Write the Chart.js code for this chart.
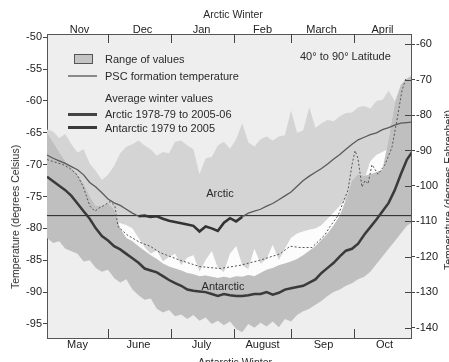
<!DOCTYPE html>
<html><head><meta charset="utf-8">
<script src="https://cdn.jsdelivr.net/npm/chart.js@4.4.1/dist/chart.umd.min.js"></script>
<style>
html,body{margin:0;padding:0;background:#fff;overflow:hidden;}
#wrap{position:relative;width:449px;height:362px;overflow:hidden;font-family:"Liberation Sans",Arial,Helvetica,sans-serif;color:#2a2a2a;}
canvas{position:absolute;left:0;top:0;}
.t{position:absolute;white-space:nowrap;font-size:11px;line-height:12px;}
.c{transform:translate(-50%,-50%);}
.r{transform:translate(-50%,-50%) rotate(-90deg);}
.sw{position:absolute;}
</style></head><body>
<div id="wrap">
<canvas id="c" width="449" height="362"></canvas>
<div class="t c" style="left:233px;top:14px;font-size:10.5px;">Arctic Winter</div>
<div class="t c" style="left:235px;top:362px;font-size:10.5px;">Antarctic Winter</div>
<div class="t r" style="left:15px;top:217px;font-size:10.5px;">Temperature (degrees Celsius)</div>
<div class="t r" style="left:448px;top:190px;font-size:10.5px;">Temperature (degrees Fahrenheit)</div>
<div class="sw" style="left:74px;top:54px;width:17px;height:8px;background:#c4c4c4;border:1px solid #555;"></div>
<div class="sw" style="left:68px;top:75px;width:29px;height:1.5px;background:#8a8a8a;"></div>
<div class="sw" style="left:68px;top:112.5px;width:29px;height:3px;background:#444;"></div>
<div class="sw" style="left:68px;top:126px;width:29px;height:3px;background:#3a3a3a;"></div>
<div class="t" style="left:105px;top:53px;">Range of values</div>
<div class="t" style="left:105px;top:70px;">PSC formation temperature</div>
<div class="t" style="left:105px;top:92px;">Average winter values</div>
<div class="t" style="left:105px;top:108px;">Arctic 1978-79 to 2005-06</div>
<div class="t" style="left:105px;top:122px;">Antarctic 1979 to 2005</div>
<div class="t" style="left:300px;top:50px;">40° to 90° Latitude</div>
<div class="t c" style="left:220px;top:193px;">Arctic</div>
<div class="t c" style="left:223px;top:286px;">Antarctic</div>
</div>
<script>
// x positions in days from Nov 1 (Arctic) / May 1 (Antarctic)
const days = [0,3,6,9,12,15,18,21,24,27,30,33,36,39,42,45,48,51,54,57,60,63,66,69,72,75,78,81,84,87,90,93,96,99,102,105,108,111,114,117,120,123,126,129,132,135,138,141,144,147,150,153,156,159,162,165,168,171,174,177,180];
const arcticAvg = [-68.5,-69.0,-69.4,-69.8,-70.3,-70.8,-71.6,-72.8,-73.5,-74.4,-75.4,-76.0,-76.4,-77.0,-77.6,-78.1,-78.0,-78.2,-78.1,-78.5,-78.8,-79.0,-79.2,-79.4,-79.6,-80.5,-79.7,-80.0,-80.4,-79.1,-78.4,-78.9,-78.2,-77.6,-77.3,-77.0,-76.5,-76.1,-75.5,-74.9,-74.3,-73.4,-72.5,-71.8,-71.2,-70.6,-69.9,-69.1,-68.4,-67.6,-66.8,-66.1,-65.7,-65.3,-65.0,-64.5,-64.2,-63.8,-63.5,-63.4,-63.3];
const antarcticAvg = [-71.9,-72.6,-73.3,-74.0,-74.9,-76.1,-77.3,-78.5,-80.0,-81.2,-81.9,-82.8,-83.3,-84.0,-84.7,-85.4,-86.3,-86.6,-86.9,-87.5,-88.1,-88.6,-89.0,-89.6,-89.8,-89.9,-90.0,-90.3,-90.6,-90.3,-90.5,-90.6,-90.6,-90.5,-90.3,-90.3,-90.0,-90.4,-90.1,-89.6,-89.4,-89.2,-89.0,-88.5,-88.0,-87.0,-86.2,-85.4,-84.4,-83.5,-83.2,-82.4,-81.0,-79.8,-78.6,-77.3,-76.0,-74.0,-71.5,-69.2,-67.8];
const arcticMax = [-64.5,-64.8,-65.8,-65.2,-66.8,-68.1,-67.6,-69.8,-71.0,-72.4,-71.6,-70.2,-68.2,-67.2,-66.8,-66.2,-67.0,-67.6,-68.6,-68.0,-68.2,-66.4,-66.2,-67.0,-67.6,-71.5,-69.0,-68.8,-67.0,-66.4,-67.5,-66.0,-63.5,-66.5,-67.2,-66.0,-65.6,-66.2,-65.6,-65.4,-61.5,-65.0,-64.6,-61.0,-64.2,-63.5,-63.0,-63.2,-62.4,-61.9,-61.8,-61.0,-60.8,-61.2,-60.0,-59.8,-58.4,-60.0,-57.5,-56.5,-55.8];
const arcticMin = [-77.0,-77.5,-78.0,-78.3,-78.6,-79.0,-79.2,-79.5,-79.6,-79.5,-79.2,-79.0,-79.2,-79.5,-80.0,-81.5,-83.0,-84.0,-83.5,-85.2,-84.5,-84.0,-85.8,-84.6,-84.2,-86.8,-85.0,-83.6,-86.2,-86.9,-84.0,-82.8,-85.8,-86.4,-83.2,-85.6,-84.8,-82.6,-85.0,-83.2,-81.5,-80.8,-80.5,-80.2,-80.0,-79.5,-78.5,-77.5,-76.5,-75.5,-74.5,-73.5,-72.5,-69.5,-68.5,-68.0,-67.5,-67.0,-66.5,-66.0,-65.5];
const antarcticMax = [-65.0,-66.5,-68.0,-69.5,-70.5,-71.5,-73.0,-75.0,-76.5,-76.5,-76.0,-77.0,-80.0,-81.5,-82.0,-82.8,-83.5,-84.2,-84.8,-85.5,-86.0,-86.3,-86.6,-87.0,-87.2,-87.5,-87.4,-87.6,-87.8,-87.6,-87.8,-87.5,-87.6,-87.3,-87.5,-87.0,-86.5,-86.2,-85.8,-85.5,-85.2,-84.8,-84.2,-83.5,-82.8,-81.8,-80.8,-79.5,-78.0,-75.5,-72.5,-71.5,-71.8,-71.5,-71.2,-70.8,-66.0,-60.5,-57.5,-56.5,-56.0];
const antarcticMin = [-81.5,-82.3,-82.0,-83.2,-83.6,-84.0,-85.2,-85.0,-86.2,-86.8,-86.5,-87.8,-88.5,-88.0,-89.6,-90.5,-91.2,-91.0,-92.6,-93.2,-92.8,-93.8,-93.5,-94.2,-93.6,-94.5,-94.0,-95.0,-94.5,-95.2,-94.6,-95.8,-96.3,-95.0,-95.6,-94.8,-95.4,-94.6,-95.5,-94.2,-94.6,-93.6,-93.0,-92.6,-92.0,-91.4,-90.6,-90.0,-89.6,-89.0,-88.6,-88.0,-87.6,-86.8,-85.6,-84.4,-83.2,-82.0,-80.8,-79.6,-79.0];
// single winter (dotted)
const yearDays = [0,3.9,7.9,11.3,14.8,17.7,21.1,23.6,25.6,27.5,31.0,33.4,34.9,39.3,45.7,50.7,55.6,65.4,75.2,85.1,94.9,104.7,114.6,119.5,124.4,130.3,136.7,139.2,143.1,148.0,150.0,151.5,152.9,154.9,156.4,157.9,159.8,162.8,166.2,169.7,172.1,174.6,176.5];
const yearVals = [-69.2,-69.6,-70.0,-70.6,-71.6,-73.4,-76.5,-77.3,-76.8,-76.5,-75.8,-76.5,-79.7,-81.0,-82.2,-82.8,-83.8,-85.0,-86.0,-86.3,-85.8,-85.0,-84.0,-82.8,-83.0,-83.0,-81.0,-79.7,-78.0,-74.0,-70.0,-67.8,-69.0,-73.5,-72.5,-73.0,-70.0,-71.5,-70.0,-67.2,-63.0,-58.3,-56.5];
const pscDays = [0,180];
const pscVals = [-78,-78];
// axes
const bottomMonths = ['May','June','July','August','Sep','Oct'];
const bottomLabelDays = [15,45,76,106,136,166];
const topMonths = ['Nov','Dec','Jan','Feb','March','April'];
const topLabelDays = [16,47,76,106,135,165];
const monthBoundaries = [30,61,92,120,151];
const celsiusTicks = [-50,-55,-60,-65,-70,-75,-80,-85,-90,-95];
const fahrenheitTicks = [-60,-70,-80,-90,-100,-110,-120,-130,-140];
const cMin = -97.2, cMax = -49.5;
const toF = c => c*9/5+32;

const pts = (xs, ys) => xs.map((x,i)=>({x:x,y:ys[i]}));
const FONT = {family:'"Liberation Sans", Arial, Helvetica, sans-serif', size:11};
const lab = '#222';

const bgPlugin = {id:'bg', beforeDraw(ch){const a=ch.chartArea,c=ch.ctx;c.save();c.fillStyle='#eeeeee';c.fillRect(a.left,a.top,a.right-a.left,a.bottom-a.top);c.restore();}};
const tickPlugin = {id:'tk', afterDraw(ch){
  const {ctx,chartArea:a,scales} = ch; ctx.save(); ctx.strokeStyle='#444'; ctx.lineWidth=1;
  monthBoundaries.forEach(d=>{const x=Math.round(scales.x.getPixelForValue(d))+0.5;
    ctx.beginPath();ctx.moveTo(x,a.bottom);ctx.lineTo(x,a.bottom-9);ctx.moveTo(x,a.top);ctx.lineTo(x,a.top+9);ctx.stroke();});
  fahrenheitTicks.forEach(f=>{const y=Math.round(scales.y2.getPixelForValue(f))+0.5;
    ctx.beginPath();ctx.moveTo(a.right-6,y);ctx.lineTo(a.right,y);ctx.stroke();});
  ctx.restore();}};

const thin = '#5a5a5a';
new Chart(document.getElementById('c'), {
  type:'line',
  data:{datasets:[
    {data:pts(days,arcticAvg), borderColor:thin, borderWidth:1.3, pointRadius:0, fill:false,
      segment:{borderWidth:c=>(c.p0.parsed.y<-77.9&&c.p1.parsed.y<-77.9)?2.6:1.3,
               borderColor:c=>(c.p0.parsed.y<-77.9&&c.p1.parsed.y<-77.9)?'#333':thin}},
    {data:pts(days,antarcticAvg), borderColor:'#3a3a3a', borderWidth:2.5, pointRadius:0, fill:false},
    {data:pts(yearDays,yearVals), borderColor:'#555', borderWidth:1, borderDash:[2,2], pointRadius:0, fill:false},
    {data:pts(pscDays,pscVals), borderColor:'#222', borderWidth:1, pointRadius:0, fill:false},
    {data:pts(days,antarcticMin), borderWidth:0, pointRadius:0, fill:false},
    {data:pts(days,antarcticMax), borderWidth:0, pointRadius:0, fill:'-1', backgroundColor:'#bfbfbf'},
    {data:pts(days,arcticMin), borderWidth:0, pointRadius:0, fill:{target:5, above:'#fcfcfc', below:'rgba(0,0,0,0)'}},
    {data:pts(days,arcticMax), borderWidth:0, pointRadius:0, fill:'-1', backgroundColor:'#d4d4d4'}
  ]},
  options:{
    responsive:false, animation:false, events:[],
    layout:{padding:0},
    plugins:{legend:{display:false}, tooltip:{enabled:false}, filler:{drawTime:'beforeDatasetsDraw'}},
    elements:{line:{tension:0}},
    scales:{
      x:{type:'linear', position:'bottom', min:0, max:179,
        afterBuildTicks:s=>{s.ticks=bottomLabelDays.map(v=>({value:v}));},
        afterFit:s=>{s.height=24;},
        ticks:{callback:(v,i)=>bottomMonths[i], font:FONT, color:lab, padding:0, maxRotation:0, autoSkip:false},
        grid:{display:false, drawTicks:false}, border:{display:true, color:'#555', width:1}},
      x2:{type:'linear', position:'top', min:0, max:179,
        afterBuildTicks:s=>{s.ticks=topLabelDays.map(v=>({value:v}));},
        afterFit:s=>{s.height=34;},
        ticks:{callback:(v,i)=>topMonths[i], font:FONT, color:lab, padding:-3, maxRotation:0, autoSkip:false},
        grid:{display:false, drawTicks:false}, border:{display:true, color:'#555', width:1}},
      y:{type:'linear', position:'left', min:cMin, max:cMax,
        afterBuildTicks:s=>{s.ticks=celsiusTicks.map(v=>({value:v}));},
        afterFit:s=>{s.width=47;},
        ticks:{callback:v=>String(v), font:FONT, color:lab, padding:1},
        grid:{display:true, drawOnChartArea:false, drawTicks:true, tickLength:4, color:'#444'},
        border:{display:true, color:'#555', width:1}},
      y2:{type:'linear', position:'right', min:toF(cMin), max:toF(cMax),
        afterBuildTicks:s=>{s.ticks=fahrenheitTicks.map(v=>({value:v}));},
        afterFit:s=>{s.width=38;},
        ticks:{callback:v=>String(v), font:FONT, color:lab, padding:1},
        grid:{display:true, drawOnChartArea:false, drawTicks:true, tickLength:4, color:'#444'},
        border:{display:true, color:'#555', width:1}}
    }
  },
  plugins:[bgPlugin, tickPlugin]
});
</script>
</body></html>
